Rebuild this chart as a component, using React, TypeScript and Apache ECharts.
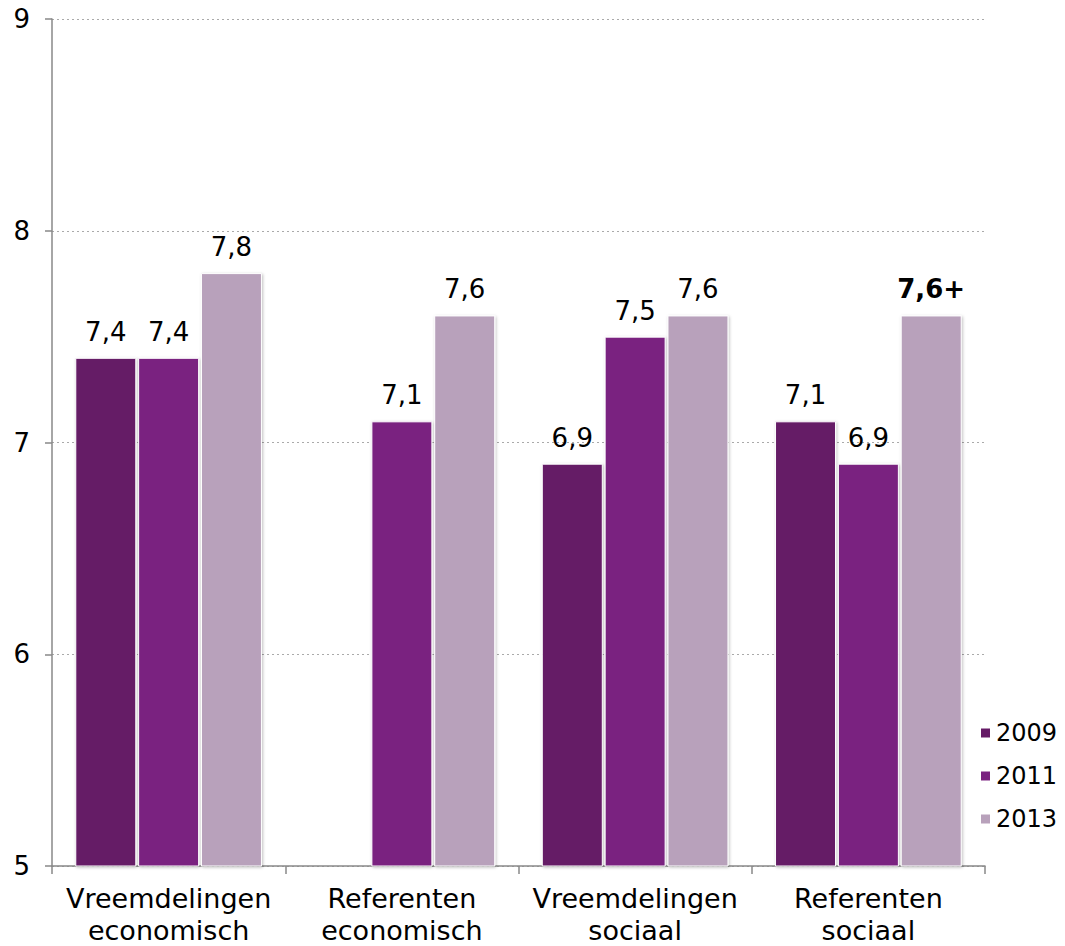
import React, { useEffect, useRef } from "react";
import * as echarts from "echarts";

const categories = ["Vreemdelingen\neconomisch", "Referenten\neconomisch", "Vreemdelingen\nsociaal", "Referenten\nsociaal"];
const years = ["2009", "2011", "2013"];
const values2009: (number | null)[] = [7.4, null, 6.9, 7.1];
const values2011: (number | null)[] = [7.4, 7.1, 7.5, 6.9];
const values2013: (number | null)[] = [7.8, 7.6, 7.6, 7.6];
const labels2013 = ["7,8", "7,6", "7,6", "7,6+"];
const boldIndex2013 = [false, false, false, true];
const colors = ["#651a66", "#7a2280", "#b8a1bb"];
const yTicks = [5, 6, 7, 8, 9];

const fmt = (v: number) => v.toFixed(1).replace(".", ",");

export default function App() {
  const ref = useRef<HTMLDivElement>(null);
  useEffect(() => {
    if (!ref.current) return;
    const chart = echarts.init(ref.current, undefined, { renderer: "svg" });
    const font = "'DejaVu Sans', Verdana, sans-serif";
    const labelBase = {
      show: true,
      position: "top" as const,
      distance: 13,
      fontSize: 26,
      color: "#000",
      fontFamily: font,
    };
    const itemStyleFor = (c: string) => ({
      color: c,
      borderColor: "#ffffff",
      borderWidth: 1,
      shadowColor: "rgba(0,0,0,0.25)",
      shadowBlur: 3,
      shadowOffsetX: 1,
      shadowOffsetY: 1,
    });
    const mk = (name: string, data: (number | null)[], c: string, idx: number) => ({
      name,
      type: "bar",
      barWidth: 61,
      barGap: "3%",
      data: data.map((v, i) => {
        if (v === null) return null;
        const item: any = { value: v };
        if (idx === 2) {
          item.label = {
            ...labelBase,
            formatter: labels2013[i],
            fontWeight: boldIndex2013[i] ? "bold" : "normal",
          };
        }
        return item;
      }),
      itemStyle: itemStyleFor(c),
      label: { ...labelBase, formatter: (p: any) => fmt(p.value) },
    });
    chart.setOption({
      animation: false,
      textStyle: { fontFamily: font },
      grid: { left: 52, right: 80, top: 19, bottom: 80, containLabel: false },
      legend: {
        orient: "vertical",
        left: 974,
        top: 714,
        itemWidth: 11,
        itemHeight: 11,
        itemGap: 15,
        icon: "rect",
        data: years,
        textStyle: { fontSize: 24, lineHeight: 28, color: "#000", fontFamily: font, padding: [0, 0, 0, 0] },
      },
      xAxis: {
        type: "category",
        data: categories,
        boundaryGap: true,
        axisLine: { lineStyle: { color: "#888", width: 1.5 } },
        axisTick: { show: true, alignWithLabel: false, length: 8, lineStyle: { color: "#888", width: 1.5 } },
        axisLabel: { fontSize: 27, color: "#000", lineHeight: 32, margin: 16, interval: 0, fontFamily: font },
      },
      yAxis: {
        type: "value",
        min: yTicks[0],
        max: yTicks[yTicks.length - 1],
        interval: 1,
        axisLine: { show: true, lineStyle: { color: "#888", width: 1.5 } },
        axisTick: { show: true, length: 7, lineStyle: { color: "#888", width: 1.5 } },
        axisLabel: { fontSize: 26, color: "#000", margin: 22, fontFamily: font },
        splitLine: { show: true, lineStyle: { color: "#aaa", type: [2, 3], width: 1 } },
      },
      series: [
        mk(years[0], values2009, colors[0], 0),
        mk(years[1], values2011, colors[1], 1),
        mk(years[2], values2013, colors[2], 2),
      ],
    });
    return () => chart.dispose();
  }, []);
  return (
    <div
      ref={ref}
      style={{ position: "absolute", left: 0, top: 0, width: 1065, height: 946 }}
    />
  );
}
